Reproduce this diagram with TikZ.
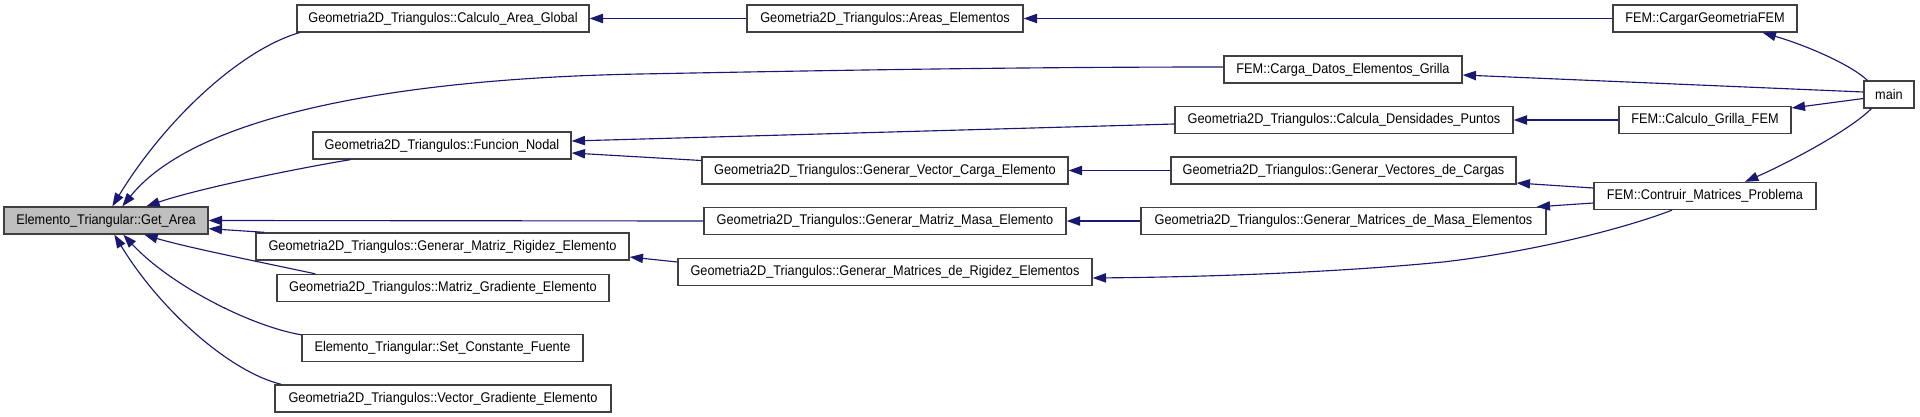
\documentclass[tikz,border=0pt]{standalone}
\usepackage{fontspec}
\setmainfont{Liberation Sans}[FakeStretch=0.91]
\usetikzlibrary{arrows.meta,calc}
\definecolor{edgeblue}{HTML}{191970}
\definecolor{boxline}{HTML}{404040}
\definecolor{hilite}{HTML}{BFBFBF}
\tikzset{
  box/.style={draw=boxline, line width=1pt, fill=white, rectangle, inner sep=0pt,
    minimum height=20.25pt, font=\fontsize{10.5pt}{12pt}\selectfont},
  bw/.style={minimum width=#1*0.75pt},
  edge/.style={draw=edgeblue, line width=0.85pt,
    -{Triangle[length=10pt,width=7pt,fill=edgeblue]}},
}
\begin{document}
\begin{tikzpicture}[x=0.75pt,y=-0.75pt]
\useasboundingbox (0,0) rectangle (1920,417);
% nodes
\node[box,bw=204,fill=hilite] (GA) at (106,220.5) {Elemento\_Triangular::Get\_Area};
\node[box,bw=292] (CAG) at (443,18.5) {Geometria2D\_Triangulos::Calculo\_Area\_Global};
\node[box,bw=258] (FN) at (442,145.5) {Geometria2D\_Triangulos::Funcion\_Nodal};
\node[box,bw=373] (GMRE) at (442.5,246.5) {Geometria2D\_Triangulos::Generar\_Matriz\_Rigidez\_Elemento};
\node[box,bw=332] (MGE) at (443,288) {Geometria2D\_Triangulos::Matriz\_Gradiente\_Elemento};
\node[box,bw=281] (SCF) at (442.5,348) {Elemento\_Triangular::Set\_Constante\_Fuente};
\node[box,bw=336] (VGE) at (443,398.5) {Geometria2D\_Triangulos::Vector\_Gradiente\_Elemento};
\node[box,bw=276] (AE) at (885,18.5) {Geometria2D\_Triangulos::Areas\_Elementos};
\node[box,bw=238] (CDEG) at (1343,69.5) {FEM::Carga\_Datos\_Elementos\_Grilla};
\node[box,bw=338] (CDP) at (1344,120) {Geometria2D\_Triangulos::Calcula\_Densidades\_Puntos};
\node[box,bw=366] (GVCE) at (885,170.5) {Geometria2D\_Triangulos::Generar\_Vector\_Carga\_Elemento};
\node[box,bw=345] (GVC) at (1343.5,170.5) {Geometria2D\_Triangulos::Generar\_Vectores\_de\_Cargas};
\node[box,bw=362] (GMME) at (885,221) {Geometria2D\_Triangulos::Generar\_Matriz\_Masa\_Elemento};
\node[box,bw=405] (GMMaE) at (1343.5,221) {Geometria2D\_Triangulos::Generar\_Matrices\_de\_Masa\_Elementos};
\node[box,bw=414] (GMRiE) at (885,272) {Geometria2D\_Triangulos::Generar\_Matrices\_de\_Rigidez\_Elementos};
\node[box,bw=184] (CGF) at (1705,18.5) {FEM::CargarGeometriaFEM};
\node[box,bw=172] (CGFEM) at (1705,120) {FEM::Calculo\_Grilla\_FEM};
\node[box,bw=222] (CMP) at (1705,196) {FEM::Contruir\_Matrices\_Problema};
\node[box,bw=50] (main) at (1889,94.5) {main};
% edges into Get_Area
\draw[edge] ($(CAG.south west)+(3,0)$) .. controls (240,50) and (165,120) .. ($(GA.north west)+(109,0)$);
\draw[edge] ($(CDEG.west)+(0,-2.5)$) .. controls (1000,67) and (800,71) .. (640,74)
   .. controls (420,78) and (200,110) .. ($(GA.north west)+(119,0)$);
\draw[edge] ($(FN.south west)+(38,0)$) .. controls (300,168) and (200,188) .. ($(GA.north west)+(143,0)$);
\draw[edge] (GMME.west) -- (GA.east);
\draw[edge] ($(GMRE.north west)+(9,0)$) -- ($(GA.south east)+(0,-6)$);
\draw[edge] ($(MGE.north west)+(39,0)$) .. controls (260,262) and (185,247) .. ($(GA.south west)+(141,0)$);
\draw[edge] ($(SCF.north west)+(0,1)$) .. controls (250,326) and (170,285) .. ($(GA.south west)+(120,0)$);
\draw[edge] ($(VGE.north west)+(7,0)$) .. controls (230,372) and (160,310) .. ($(GA.south west)+(111,0)$);
% top row
\draw[edge] (AE.west) -- (CAG.east);
\draw[edge] (CGF.west) -- (AE.east);
% main
\draw[edge] ($(main.north west)+(4,0)$) .. controls (1850,64) and (1805,45) .. ($(CGF.south east)+(-35,0)$);
\draw[edge] ($(main.west)+(0,-2.5)$) -- ($(CDEG.east)+(0,5.5)$);
\draw[edge] ($(main.west)+(0,4)$) -- ($(CGFEM.east)+(0,-12)$);
\draw[edge] ($(main.south west)+(8,0)$) .. controls (1850,130) and (1790,162) .. ($(CMP.north)+(40,0)$);
% Funcion_Nodal callers
\draw[edge] ($(CDP.west)+(0,4)$) -- ($(FN.east)+(0,-4.5)$);
\draw[edge] ($(GVCE.west)+(0,-10)$) -- ($(FN.east)+(0,7.5)$);
\draw[edge] (CGFEM.west) -- (CDP.east);
\draw[edge] (GVC.west) -- (GVCE.east);
% Contruir_Matrices_Problema
\draw[edge] ($(CMP.west)+(0,-8)$) -- ($(GVC.east)+(0,12.5)$);
\draw[edge] ($(CMP.west)+(0,7)$) -- ($(GMMaE.north east)+(-10,0)$);
\draw[edge] (GMMaE.west) -- (GMME.east);
\draw[edge] ($(CMP.south)+(-33,0)$) .. controls (1620,230) and (1530,252) .. (1443,262)
   .. controls (1330,273) and (1200,277) .. ($(GMRiE.east)+(0,6)$);
\draw[edge] ($(GMRiE.west)+(0,-10)$) -- ($(GMRE.east)+(0,10.5)$);
\end{tikzpicture}
\end{document}
